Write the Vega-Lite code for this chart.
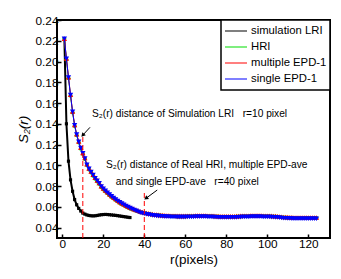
{
"$schema": "https://vega.github.io/schema/vega-lite/v6.json",
"width": 273, "height": 218,
"autosize": {"type": "none"},
"padding": {"left": 57, "top": 20, "right": 11, "bottom": 41},
"config": {
  "font": "Liberation Sans",
  "view": {"stroke": "#000", "strokeWidth": 2},
  "axis": {"domain": false, "grid": false, "tickSize": -4, "tickColor": "#000", "tickWidth": 1.5, "labelFontSize": 11.8, "labelColor": "#000", "labelFont": "Liberation Sans", "titleFont": "Liberation Sans", "titleFontSize": 13.5, "titleFontWeight": "normal", "titleColor": "#000", "labelOverlap": false, "labelFlush": false, "labelSeparation": 0},
  "axisQuantitative": {"labelOverlap": false},
  "axisX": {"labelPadding": 4, "titlePadding": 3},
  "axisY": {"labelPadding": 3, "titlePadding": 5, "titleFontStyle": "italic", "labelOverlap": false},
  "legend": {"orient": "top-right", "offset": 0, "strokeColor": "#000", "strokeWidth": 1.5, "fillColor": "#fff", "padding": 3, "labelFontSize": 11.3, "labelFont": "Liberation Sans", "labelColor": "#000", "symbolType": "stroke", "symbolSize": 484, "symbolStrokeWidth": 1.2, "rowPadding": 0, "clipHeight": 16, "labelOffset": 3}
},
"datasets": {
"d": [
{"r":1,"a":0.222,"h":0.222,"m":0.222,"s":0.222},
{"r":2,"a":0.140,"h":0.202,"m":0.203,"s":0.2026},
{"r":3,"a":0.104,"h":0.184,"m":0.185,"s":0.1846},
{"r":4,"a":0.086,"h":0.167,"m":0.168,"s":0.1676},
{"r":5,"a":0.075,"h":0.151,"m":0.152,"s":0.1516},
{"r":6,"a":0.067,"h":0.138,"m":0.139,"s":0.1386},
{"r":7,"a":0.062,"h":0.129,"m":0.130,"s":0.1296},
{"r":8,"a":0.0585,"h":0.122,"m":0.123,"s":0.1226},
{"r":9,"a":0.056,"h":0.116,"m":0.117,"s":0.1166},
{"r":10,"a":0.054,"h":0.111,"m":0.112,"s":0.1116},
{"r":11,"a":0.053,"h":0.106,"m":0.107,"s":0.1066},
{"r":12,"a":0.0522,"h":0.100,"m":0.101,"s":0.1006},
{"r":13,"a":0.0517,"h":0.096,"m":0.097,"s":0.0966},
{"r":14,"a":0.0514,"h":0.093,"m":0.094,"s":0.0936},
{"r":15,"a":0.0513,"h":0.090,"m":0.091,"s":0.0906},
{"r":16,"a":0.0514,"h":0.087,"m":0.088,"s":0.0876},
{"r":17,"a":0.0517,"h":0.0845,"m":0.0855,"s":0.0851},
{"r":18,"a":0.0521,"h":0.082,"m":0.083,"s":0.0826},
{"r":19,"a":0.0524,"h":0.079,"m":0.080,"s":0.0796},
{"r":20,"a":0.0526,"h":0.0768,"m":0.0778,"s":0.0774},
{"r":21,"a":0.0527,"h":0.0748,"m":0.0758,"s":0.0754},
{"r":22,"a":0.0526,"h":0.0730,"m":0.0740,"s":0.0736},
{"r":23,"a":0.0524,"h":0.0712,"m":0.0722,"s":0.0718},
{"r":24,"a":0.0522,"h":0.0695,"m":0.0705,"s":0.0701},
{"r":25,"a":0.0520,"h":0.0680,"m":0.0690,"s":0.0686},
{"r":26,"a":0.0518,"h":0.0665,"m":0.0675,"s":0.0671},
{"r":27,"a":0.0515,"h":0.0651,"m":0.0661,"s":0.0657},
{"r":28,"a":0.0512,"h":0.0638,"m":0.0648,"s":0.0644},
{"r":29,"a":0.0509,"h":0.0626,"m":0.0636,"s":0.0632},
{"r":30,"a":0.0506,"h":0.0615,"m":0.0625,"s":0.0621},
{"r":31,"a":0.0503,"h":0.0604,"m":0.0614,"s":0.0609},
{"r":32,"a":0.0500,"h":0.0594,"m":0.0604,"s":0.0598},
{"r":33,"a":0.0497,"h":0.0585,"m":0.0595,"s":0.0588},
{"r":34,"h":0.0577,"m":0.0586,"s":0.0579},
{"r":35,"h":0.0569,"m":0.0578,"s":0.0570},
{"r":36,"h":0.0562,"m":0.0570,"s":0.0561},
{"r":37,"h":0.0556,"m":0.0563,"s":0.0553},
{"r":38,"h":0.0550,"m":0.0556,"s":0.0544},
{"r":39,"h":0.0545,"m":0.0550,"s":0.0538},
{"r":40,"h":0.0540,"m":0.0545,"s":0.0533},
{"r":41,"h":0.0536,"m":0.0541,"s":0.0529},
{"r":42,"h":0.0532,"m":0.0537,"s":0.0525},
{"r":43,"h":0.0528,"m":0.0533,"s":0.0521},
{"r":44,"h":0.0525,"m":0.0530,"s":0.0518},
{"r":45,"h":0.0522,"m":0.0527,"s":0.0515},
{"r":46,"h":0.0520,"m":0.0525,"s":0.0513},
{"r":47,"h":0.0518,"m":0.0523,"s":0.0511},
{"r":48,"h":0.0516,"m":0.0521,"s":0.0509},
{"r":49,"h":0.0515,"m":0.0520,"s":0.0508},
{"r":50,"h":0.0513,"m":0.0518,"s":0.0506},
{"r":51,"h":0.0512,"m":0.0517,"s":0.0505},
{"r":52,"h":0.0511,"m":0.0516,"s":0.0504},
{"r":53,"h":0.0510,"m":0.0515,"s":0.0503},
{"r":54,"h":0.0509,"m":0.0514,"s":0.0502},
{"r":55,"h":0.0509,"m":0.0514,"s":0.0502},
{"r":56,"h":0.0508,"m":0.0513,"s":0.0501},
{"r":57,"h":0.0508,"m":0.0513,"s":0.0501},
{"r":58,"h":0.0508,"m":0.0513,"s":0.0501},
{"r":59,"h":0.0508,"m":0.0513,"s":0.0501},
{"r":60,"h":0.0508,"m":0.0513,"s":0.0501},
{"r":61,"h":0.0509,"m":0.0514,"s":0.0502},
{"r":62,"h":0.0509,"m":0.0514,"s":0.0502},
{"r":63,"h":0.0510,"m":0.0515,"s":0.0503},
{"r":64,"h":0.0510,"m":0.0515,"s":0.0503},
{"r":65,"h":0.0511,"m":0.0516,"s":0.0504},
{"r":66,"h":0.0511,"m":0.0516,"s":0.0504},
{"r":67,"h":0.0511,"m":0.0516,"s":0.0504},
{"r":68,"h":0.0511,"m":0.0516,"s":0.0504},
{"r":69,"h":0.0511,"m":0.0516,"s":0.0504},
{"r":70,"h":0.0511,"m":0.0516,"s":0.0504},
{"r":71,"h":0.0510,"m":0.0515,"s":0.0503},
{"r":72,"h":0.0510,"m":0.0515,"s":0.0503},
{"r":73,"h":0.0509,"m":0.0514,"s":0.0502},
{"r":74,"h":0.0508,"m":0.0513,"s":0.0501},
{"r":75,"h":0.0507,"m":0.0512,"s":0.0500},
{"r":76,"h":0.0506,"m":0.0511,"s":0.0499},
{"r":77,"h":0.0505,"m":0.0510,"s":0.0498},
{"r":78,"h":0.0505,"m":0.0510,"s":0.0498},
{"r":79,"h":0.0504,"m":0.0509,"s":0.0497},
{"r":80,"h":0.0504,"m":0.0509,"s":0.0497},
{"r":81,"h":0.0504,"m":0.0509,"s":0.0497},
{"r":82,"h":0.0504,"m":0.0509,"s":0.0497},
{"r":83,"h":0.0505,"m":0.0510,"s":0.0498},
{"r":84,"h":0.0505,"m":0.0510,"s":0.0498},
{"r":85,"h":0.0506,"m":0.0511,"s":0.0499},
{"r":86,"h":0.0507,"m":0.0512,"s":0.0500},
{"r":87,"h":0.0508,"m":0.0513,"s":0.0501},
{"r":88,"h":0.0509,"m":0.0514,"s":0.0502},
{"r":89,"h":0.0509,"m":0.0514,"s":0.0502},
{"r":90,"h":0.0510,"m":0.0515,"s":0.0503},
{"r":91,"h":0.0510,"m":0.0515,"s":0.0503},
{"r":92,"h":0.0511,"m":0.0516,"s":0.0504},
{"r":93,"h":0.0511,"m":0.0516,"s":0.0504},
{"r":94,"h":0.0511,"m":0.0516,"s":0.0504},
{"r":95,"h":0.0511,"m":0.0516,"s":0.0504},
{"r":96,"h":0.0511,"m":0.0516,"s":0.0504},
{"r":97,"h":0.0511,"m":0.0516,"s":0.0504},
{"r":98,"h":0.0510,"m":0.0515,"s":0.0503},
{"r":99,"h":0.0510,"m":0.0515,"s":0.0503},
{"r":100,"h":0.0509,"m":0.0514,"s":0.0502},
{"r":101,"h":0.0509,"m":0.0514,"s":0.0502},
{"r":102,"h":0.0508,"m":0.0513,"s":0.0501},
{"r":103,"h":0.0507,"m":0.0512,"s":0.0500},
{"r":104,"h":0.0506,"m":0.0511,"s":0.0499},
{"r":105,"h":0.0504,"m":0.0509,"s":0.0497},
{"r":106,"h":0.0502,"m":0.0507,"s":0.0495},
{"r":107,"h":0.0500,"m":0.0505,"s":0.0493},
{"r":108,"h":0.0498,"m":0.0503,"s":0.0491},
{"r":109,"h":0.0497,"m":0.0502,"s":0.0490},
{"r":110,"h":0.0496,"m":0.0501,"s":0.0489},
{"r":111,"h":0.0495,"m":0.0500,"s":0.0488},
{"r":112,"h":0.0494,"m":0.0499,"s":0.0487},
{"r":113,"h":0.0493,"m":0.0498,"s":0.0486},
{"r":114,"h":0.0493,"m":0.0498,"s":0.0486},
{"r":115,"h":0.0492,"m":0.0497,"s":0.0485},
{"r":116,"h":0.0492,"m":0.0497,"s":0.0485},
{"r":117,"h":0.0492,"m":0.0497,"s":0.0485},
{"r":118,"h":0.0492,"m":0.0497,"s":0.0485},
{"r":119,"h":0.0492,"m":0.0497,"s":0.0485},
{"r":120,"h":0.0492,"m":0.0497,"s":0.0485},
{"r":121,"h":0.0492,"m":0.0497,"s":0.0485},
{"r":122,"h":0.0492,"m":0.0497,"s":0.0485},
{"r":123,"h":0.0492,"m":0.0497,"s":0.0485},
{"r":124,"h":0.0492,"m":0.0497,"s":0.0485}
],
"ann": [
{"x":14.5,"v":0.149,"t":"S₂(r) distance of Simulation LRI\u00a0\u00a0\u00a0r=10 pixel"},
{"x":21.3,"v":0.1002,"t":"S₂(r) distance of Real HRI, multiple EPD-ave"},
{"x":26.1,"v":0.0839,"t":"and single EPD-ave\u00a0\u00a0\u00a0r=40 pixel"}
],
"arr": [
{"x":13.5,"v":0.1366,"x2":9.95,"v2":0.1290,"ang":222},
{"x":46.3,"v":0.0762,"x2":40.8,"v2":0.0682,"ang":234}
],
"vl": [
{"x":10,"v":0.03,"v2":0.1305},
{"x":40,"v":0.03,"v2":0.0735}
]
},
"encoding": {
  "x":{"type":"quantitative","scale":{"domain":[-2.6,130.6],"nice":false,"zero":false},"axis":{"values":[0,20,40,60,80,100,120],"labelOverlap":false},"title":"r(pixels)"},
  "y":{"type":"quantitative","scale":{"domain":[0.03,0.24],"nice":false,"zero":false},"axis":{"values":[0.04,0.06,0.08,0.1,0.12,0.14,0.16,0.18,0.2,0.22,0.24],"format":".2f","labelOverlap":false,"labelBound":false,"labelSeparation":0},"title":"S₂(r)"}
},
"layer": [
{"data":{"name":"d"},"mark":{"type":"line","strokeWidth":2,"point":{"shape":"square","filled":true,"size":10}},
 "encoding":{"x":{"field":"r"},"y":{"field":"a"},
  "color":{"datum":"simulation LRI","type":"nominal","scale":{"domain":["simulation LRI","HRI","multiple EPD-1","single EPD-1"],"range":["#000000","#00dd00","#ff0000","#0000ff"]},"legend":{"title":null}}}},
{"data":{"name":"d"},"mark":{"type":"line","strokeWidth":1,"point":{"shape":"circle","filled":true,"size":16}},
 "encoding":{"x":{"field":"r"},"y":{"field":"h"},"color":{"datum":"HRI","type":"nominal"}}},
{"data":{"name":"d"},"mark":{"type":"line","strokeWidth":1,"point":{"shape":"triangle-up","filled":true,"size":28}},
 "encoding":{"x":{"field":"r"},"y":{"field":"m"},"color":{"datum":"multiple EPD-1","type":"nominal"}}},
{"data":{"name":"d"},"mark":{"type":"line","strokeWidth":1,"point":{"shape":"triangle-down","filled":true,"size":28}},
 "encoding":{"x":{"field":"r"},"y":{"field":"s"},"color":{"datum":"single EPD-1","type":"nominal"}}},
{"data":{"name":"vl"},"mark":{"type":"rule","color":"#ff0000","strokeWidth":1,"strokeDash":[5,3]},
 "encoding":{"x":{"field":"x"},"y":{"field":"v"},"y2":{"field":"v2"}}},
{"data":{"name":"arr"},"mark":{"type":"rule","color":"#000","strokeWidth":1},
 "encoding":{"x":{"field":"x"},"y":{"field":"v"},"x2":{"field":"x2"},"y2":{"field":"v2"}}},
{"data":{"name":"arr"},"mark":{"type":"point","shape":"triangle-up","filled":true,"color":"#000","size":22,"opacity":1},
 "encoding":{"x":{"field":"x2"},"y":{"field":"v2"},"angle":{"field":"ang","type":"quantitative","scale":null}}},
{"data":{"name":"ann"},"mark":{"type":"text","align":"left","baseline":"middle","fontSize":10.2,"font":"Liberation Sans","color":"#000"},
 "encoding":{"x":{"field":"x"},"y":{"field":"v"},"text":{"field":"t"}}}
]
}
